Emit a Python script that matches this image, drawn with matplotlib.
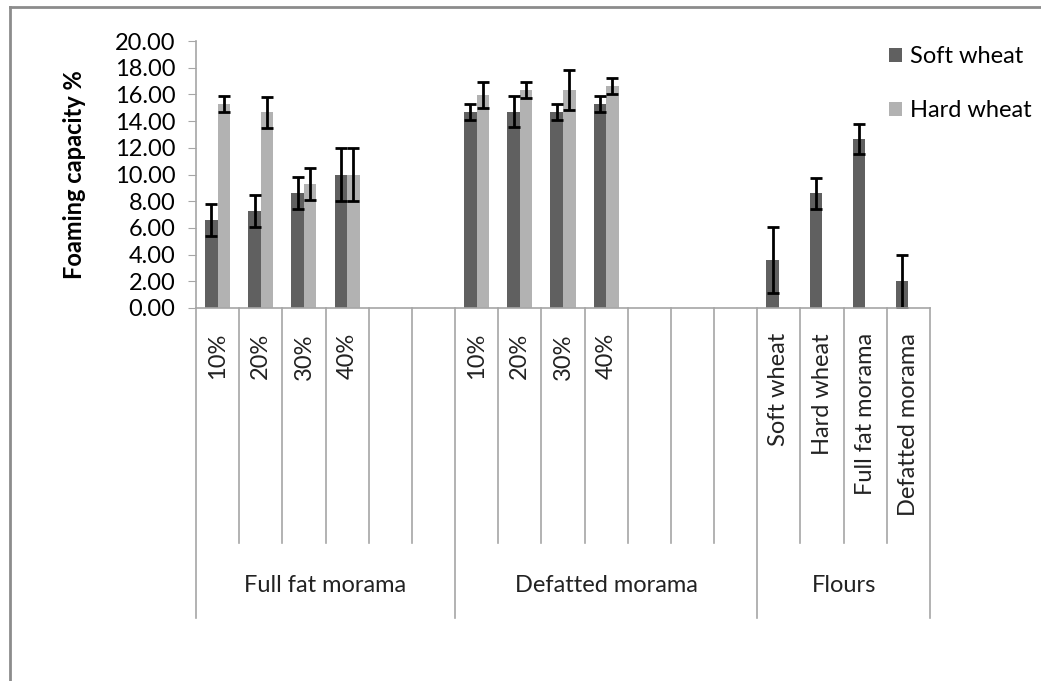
import numpy as np
import matplotlib.pyplot as plt
from matplotlib.lines import Line2D
from matplotlib.transforms import blended_transform_factory

plt.rcParams['font.family'] = ['Lato', 'DejaVu Sans']

# category slots (blank slots are empty categories in the original sheet)
groups = ['Full fat morama', 'Defatted morama', 'Flours']
group_sizes = [6, 7, 4]
labels = ['10%', '20%', '30%', '40%', '', '',
          '10%', '20%', '30%', '40%', '', '', '',
          'Soft wheat', 'Hard wheat', 'Full fat morama', 'Defatted morama']

nan = np.nan
soft = [6.6, 7.3, 8.6, 10.0, nan, nan,
        14.7, 14.7, 14.7, 15.3, nan, nan, nan,
        3.6, 8.6, 12.65, 2.0]
soft_err = [1.2, 1.2, 1.2, 2.0, nan, nan,
            0.6, 1.15, 0.6, 0.6, nan, nan, nan,
            2.5, 1.15, 1.15, 2.0]
hard = [15.25, 14.65, 9.3, 10.0, nan, nan,
        15.95, 16.3, 16.3, 16.6, nan, nan, nan,
        nan, nan, nan, nan]
hard_err = [0.6, 1.15, 1.2, 2.0, nan, nan,
            1.0, 0.6, 1.5, 0.6, nan, nan, nan,
            nan, nan, nan, nan]

soft_color = '#606060'
hard_color = '#b2b2b2'
axis_color = '#a6a6a6'
fs = 17

W, H = 1041, 681
fig = plt.figure(figsize=(W / 100, H / 100), dpi=100)
ax = fig.add_axes([196 / W, (H - 308) / H, 734 / W, 267 / H])

n = len(labels)
x = np.arange(n) + 0.5
bw = 0.29
err_kw = dict(ecolor='black', elinewidth=2, capsize=4.5, capthick=2)
ax.bar(x - bw / 2, soft, bw, color=soft_color, label='Soft wheat',
       yerr=soft_err, error_kw=err_kw, zorder=2)
ax.bar(x + bw / 2, hard, bw, color=hard_color, label='Hard wheat',
       yerr=hard_err, error_kw=err_kw, zorder=2)

ax.set_xlim(0, n)
ax.set_ylim(0, 20)
ax.set_yticks(np.arange(0, 20.1, 2))
ax.set_yticklabels([f'{v:.2f}' for v in np.arange(0, 20.1, 2)], fontsize=fs)
ax.set_xticks([])
ax.tick_params(axis='y', length=6, color=axis_color, pad=9)
for s in ['top', 'right']:
    ax.spines[s].set_visible(False)
for s in ['left', 'bottom']:
    ax.spines[s].set_color(axis_color)
    ax.spines[s].set_linewidth(1.2)

ax.set_ylabel('Foaming capacity %', fontsize=fs, fontweight='bold')
ax.yaxis.set_label_coords((86 - 196) / 734, 0.5)

# multi-level category axis
tr = blended_transform_factory(ax.transData, ax.transAxes)
inner_bottom = (308 - 543) / 267
outer_bottom = (308 - 618) / 267
bounds = np.cumsum([0] + group_sizes)
for i in range(n + 1):
    y0 = outer_bottom if i in bounds else inner_bottom
    ax.add_line(Line2D([i, i], [0, y0], transform=tr, color=axis_color,
                       lw=1.2, clip_on=False))
for xi, lab in zip(x, labels):
    ax.text(xi, (308 - 333) / 267, lab, transform=tr, rotation=90,
            ha='center', va='top', fontsize=fs, color='#222222')
for g, a, b in zip(groups, bounds[:-1], bounds[1:]):
    ax.text((a + b) / 2, (308 - 585) / 267, g, transform=tr,
            ha='center', va='center', fontsize=fs, color='#222222')

ax.legend(loc='upper left', bbox_to_anchor=(868 / W, 1 - 25 / H),
          bbox_transform=fig.transFigure, frameon=False, fontsize=fs,
          handlelength=0.55, handleheight=0.55, handletextpad=0.35,
          labelspacing=1.4)

# chart area border
fig.add_artist(Line2D([10 / W, 10 / W], [0, 1 - 7 / H], color='#8c8c8c', lw=2,
                      transform=fig.transFigure))
fig.add_artist(Line2D([10 / W, 1], [1 - 7 / H, 1 - 7 / H], color='#8c8c8c', lw=2,
                      transform=fig.transFigure))

fig.savefig('out.png', dpi=100)
